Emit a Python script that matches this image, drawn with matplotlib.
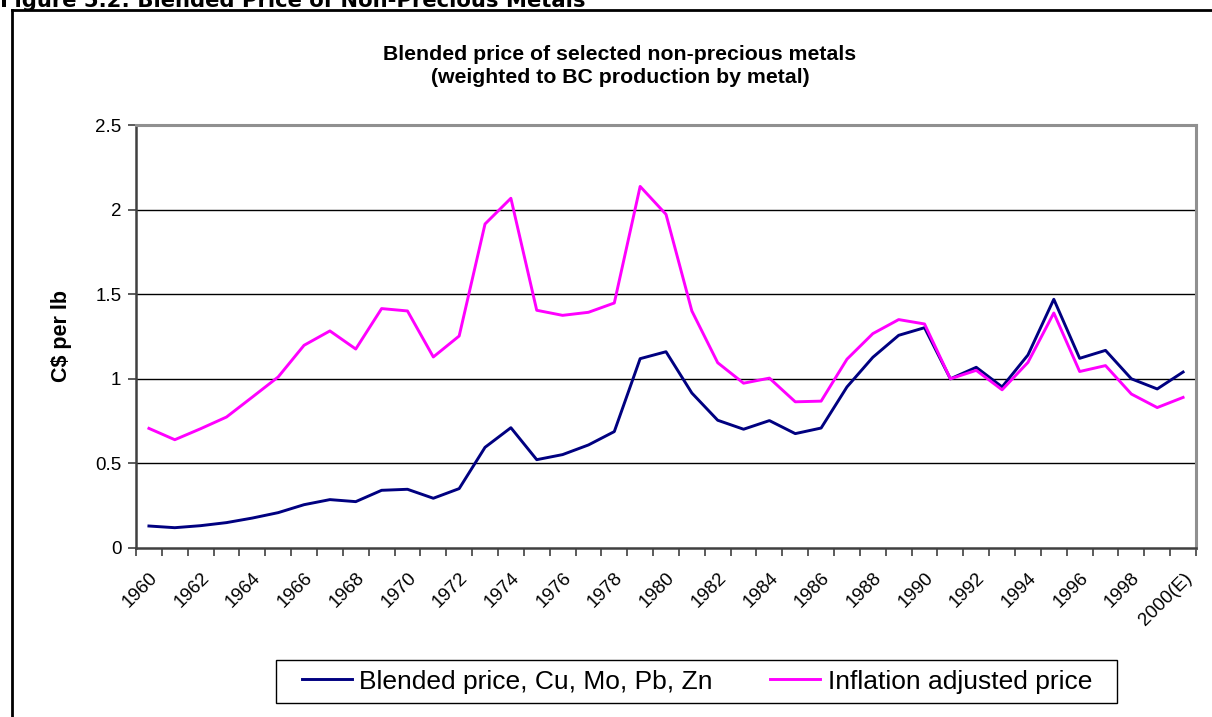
import matplotlib
matplotlib.use("Agg")
import matplotlib.pyplot as plt
import numpy as np
from matplotlib.lines import Line2D
from matplotlib.patches import Rectangle
from matplotlib.transforms import ScaledTranslation

# data (C$ per lb), one value per year 1960..2000(E)
years = [str(y) for y in range(1960, 2000)] + ["2000(E)"]
blended = [0.13, 0.12, 0.132, 0.15, 0.177, 0.209, 0.256, 0.286, 0.274, 0.341,
           0.347, 0.294, 0.351, 0.595, 0.711, 0.522, 0.552, 0.609, 0.688, 1.119,
           1.16, 0.916, 0.755, 0.702, 0.753, 0.676, 0.709, 0.952, 1.127, 1.257,
           1.302, 1.0, 1.068, 0.952, 1.141, 1.47, 1.121, 1.168, 1.0, 0.94, 1.04]
inflation = [0.707, 0.64, 0.705, 0.774, 0.892, 1.011, 1.198, 1.283, 1.176, 1.415,
             1.401, 1.129, 1.253, 1.915, 2.067, 1.405, 1.375, 1.393, 1.448, 2.137,
             1.972, 1.401, 1.095, 0.974, 1.004, 0.864, 0.868, 1.116, 1.267, 1.35,
             1.324, 1.0, 1.05, 0.935, 1.097, 1.389, 1.043, 1.078, 0.91, 0.83, 0.89]
yticks = [0, 0.5, 1, 1.5, 2, 2.5]
ytick_labels = ["0", "0.5", "1", "1.5", "2", "2.5"]

W, H = 1212, 717
fig = plt.figure(figsize=(W / 100, H / 100), dpi=100)
ax = fig.add_axes([136 / W, 1 - 548 / H, (1196 - 136) / W, (548 - 125) / H])

x = np.arange(len(years))
ax.plot(x, blended, color="#000080", lw=2.1, label="Blended price, Cu, Mo, Pb, Zn")
ax.plot(x, inflation, color="#FF00FF", lw=2.1, label="Inflation adjusted price")

ax.set_xlim(-0.5, len(years) - 0.5)
ax.set_ylim(0, 2.5)
ax.set_yticks(yticks)
ax.set_yticklabels(ytick_labels, fontsize=13.5, family="Liberation Sans")
for v in yticks[1:-1]:
    ax.axhline(v, color="black", lw=1.0, zorder=0)

# ticks between categories, labels every other year
ax.set_xticks(np.arange(-0.5, len(years), 1.0))
ax.set_xticklabels([])
ax.set_xticks(x[::2], minor=True)
ax.set_xticklabels(years[::2], minor=True, rotation=45, ha="right", va="top",
                   rotation_mode="anchor", fontsize=13.5, family="Liberation Sans")
shift = ScaledTranslation(-0.22, 0, fig.dpi_scale_trans)
for lab in ax.get_xticklabels(minor=True):
    lab.set_transform(lab.get_transform() + shift)
ax.tick_params(axis="x", which="major", direction="out", length=6, width=1.2, color="#404040")
ax.tick_params(axis="x", which="minor", length=0, pad=15.5)
ax.tick_params(axis="y", direction="out", length=5.5, width=1.2, color="#404040", pad=5)

for s in ["left", "bottom"]:
    ax.spines[s].set_color("#404040")
    ax.spines[s].set_linewidth(1.8)
for s in ["top", "right"]:
    ax.spines[s].set_color("#909090")
    ax.spines[s].set_linewidth(2.2)

ax.set_ylabel("C$ per lb", fontsize=15.5, fontweight="bold", family="Liberation Sans")
ax.yaxis.set_label_coords(-0.060, 0.5)

fig.text(620 / W, 1 - 66 / H, "Blended price of selected non-precious metals\n(weighted to BC production by metal)",
         ha="center", va="center", fontsize=15.3, fontweight="bold", family="Liberation Sans",
         linespacing=1.3)

# legend box drawn separately so its padding matches the original
fig.add_artist(Rectangle((276 / W, 1 - 703 / H), (1117 - 276) / W, 43 / H, transform=fig.transFigure,
                         facecolor="white", edgecolor="black", lw=1.0))
leg = fig.legend(loc="center", bbox_to_anchor=(697 / W, 1 - 681.5 / H), ncol=2,
                 prop={"family": "Liberation Sans", "size": 19},
                 frameon=False, handlelength=1.9, handletextpad=0.27, columnspacing=2.18,
                 borderpad=0.0)

# outer chart frame and the clipped figure caption above it
fig.add_artist(Line2D([12 / W, 12 / W], [0, 1 - 10 / H], color="black", lw=2.0, transform=fig.transFigure))
fig.add_artist(Line2D([12 / W, 1], [1 - 10 / H, 1 - 10 / H], color="black", lw=2.0, transform=fig.transFigure))
fig.text(0.0, 1 - 7 / H, "Figure 5.2: Blended Price of Non-Precious Metals", ha="left", va="baseline",
         fontsize=15.2, fontweight="bold", family="DejaVu Sans")

fig.savefig("out.png", dpi=100)
